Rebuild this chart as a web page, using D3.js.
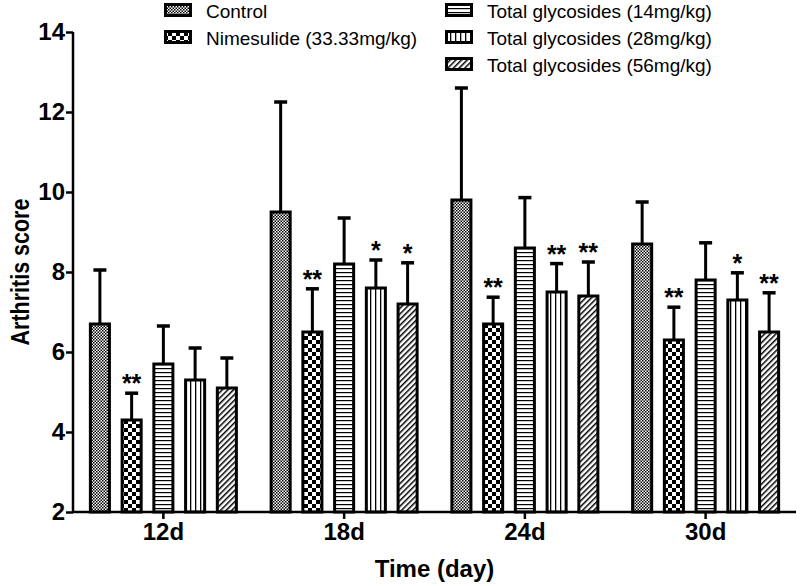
<!DOCTYPE html>
<html>
<head>
<meta charset="utf-8">
<script src="https://cdn.jsdelivr.net/npm/d3@7"></script>
<style>
html,body{margin:0;padding:0;background:#fff;}
svg{display:block;font-family:"Liberation Sans",Arial,sans-serif;}
</style>
</head>
<body>
<svg id="chart" width="800" height="586"></svg>
<script>
// ---- data ----
const days = ["12d", "18d", "24d", "30d"];
const groups = ["Control", "Nimesulide (33.33mg/kg)", "Total glycosides (14mg/kg)", "Total glycosides (28mg/kg)", "Total glycosides (56mg/kg)"];
const meanControl = [6.7, 9.5, 9.8, 8.7];
const meanNimesulide = [4.3, 6.5, 6.7, 6.3];
const meanTG14 = [5.7, 8.2, 8.6, 7.8];
const meanTG28 = [5.3, 7.6, 7.5, 7.3];
const meanTG56 = [5.1, 7.2, 7.4, 6.5];
const sdControl = [1.35, 2.75, 2.8, 1.05];
const sdNimesulide = [0.67, 1.08, 0.67, 0.82];
const sdTG14 = [0.95, 1.15, 1.26, 0.93];
const sdTG28 = [0.8, 0.7, 0.71, 0.68];
const sdTG56 = [0.75, 1.03, 0.85, 0.98];
const sigControl = ["", "", "", ""];
const sigNimesulide = ["**", "**", "**", "**"];
const sigTG14 = ["", "", "", ""];
const sigTG28 = ["", "*", "**", "*"];
const sigTG56 = ["", "*", "**", "**"];
const yTicks = [2, 4, 6, 8, 10, 12, 14];

const means = [meanControl, meanNimesulide, meanTG14, meanTG28, meanTG56];
const sds = [sdControl, sdNimesulide, sdTG14, sdTG28, sdTG56];
const sigs = [sigControl, sigNimesulide, sigTG14, sigTG28, sigTG56];
const patternIds = ["pFine", "pChecker", "pHoriz", "pVert", "pDiag"];

const svg = d3.select("#chart");
const defs = svg.append("defs");

// patterns
function pat(id, w, h) {
  return defs.append("pattern").attr("id", id).attr("patternUnits", "userSpaceOnUse")
    .attr("width", w).attr("height", h);
}
let p = pat("pFine", 3, 3);
p.append("rect").attr("width", 3).attr("height", 3).attr("fill", "#fff");
p.append("rect").attr("width", 1.5).attr("height", 1.5).attr("fill", "#000");
p.append("rect").attr("x", 1.5).attr("y", 1.5).attr("width", 1.5).attr("height", 1.5).attr("fill", "#000");
p = pat("pChecker", 8, 8);
p.append("rect").attr("width", 8).attr("height", 8).attr("fill", "#fff");
p.append("rect").attr("width", 4).attr("height", 4).attr("fill", "#000");
p.append("rect").attr("x", 4).attr("y", 4).attr("width", 4).attr("height", 4).attr("fill", "#000");
p = pat("pHoriz", 4, 4);
p.append("rect").attr("width", 4).attr("height", 4).attr("fill", "#fff");
p.append("rect").attr("y", 0).attr("width", 4).attr("height", 1.2).attr("fill", "#000");
p = pat("pVert", 5, 5);
p.append("rect").attr("width", 5).attr("height", 5).attr("fill", "#fff");
p.append("rect").attr("x", 0).attr("width", 1.3).attr("height", 5).attr("fill", "#000");
p = pat("pDiag", 4, 4).attr("patternTransform", "rotate(45)");
p.append("rect").attr("width", 4).attr("height", 4).attr("fill", "#fff");
p.append("rect").attr("width", 1.5).attr("height", 4).attr("fill", "#000");

// scales
const mLeft = 73, mRight = 796, mTop = 32, mBottom = 512;
const x0 = d3.scaleBand().domain(days).range([mLeft, mRight]).padding(0);
const x1 = d3.scaleBand().domain(groups).range([-73, 73]).paddingInner(0.4).paddingOuter(0);
const y = d3.scaleLinear().domain([2, 14]).range([mBottom, mTop]);

// bars
const data = [];
days.forEach((d, i) => {
  groups.forEach((g, j) => {
    data.push({day: d, group: g, j: j, mean: means[j][i], sd: sds[j][i], sig: sigs[j][i]});
  });
});
const bw = x1.bandwidth();
const cx = d => x0(d.day) + x0.bandwidth() / 2 + x1(d.group) + bw / 2;

const gBars = svg.append("g");
// error bars
gBars.selectAll(".err").data(data).join("line")
  .attr("x1", cx).attr("x2", cx)
  .attr("y1", d => y(d.mean)).attr("y2", d => y(d.mean + d.sd))
  .attr("stroke", "#000").attr("stroke-width", 3);
gBars.selectAll(".cap").data(data).join("line")
  .attr("x1", d => cx(d) - 6.5).attr("x2", d => cx(d) + 6.5)
  .attr("y1", d => y(d.mean + d.sd)).attr("y2", d => y(d.mean + d.sd))
  .attr("stroke", "#000").attr("stroke-width", 3.5);
gBars.selectAll(".bar").data(data).join("rect")
  .attr("x", d => cx(d) - bw / 2).attr("width", bw)
  .attr("y", d => y(d.mean)).attr("height", d => y(2) - y(d.mean))
  .attr("fill", d => `url(#${patternIds[d.j]})`)
  .attr("stroke", "#000").attr("stroke-width", 3);
gBars.selectAll(".sig").data(data.filter(d => d.sig)).join("text")
  .attr("x", cx).attr("y", d => y(d.mean + d.sd) - 1)
  .attr("text-anchor", "middle").attr("font-size", 25).attr("font-weight", "bold")
  .text(d => d.sig);

// axes
const yAxis = svg.append("g").attr("transform", `translate(${mLeft},0)`)
  .call(d3.axisLeft(y).tickValues(yTicks).tickSize(7).tickPadding(1));
const xAxis = svg.append("g").attr("transform", `translate(0,${mBottom})`)
  .call(d3.axisBottom(x0).tickSize(7).tickPadding(3).tickSizeOuter(0));
[yAxis, xAxis].forEach(a => {
  a.select(".domain").attr("stroke", "#000").attr("stroke-width", 2.5);
  a.selectAll(".tick line").attr("stroke", "#000").attr("stroke-width", 2.5);
  a.selectAll(".tick text").attr("fill", "#000").attr("font-size", 24).attr("font-weight", "bold")
    .attr("font-family", '"Liberation Sans",Arial,sans-serif');
});
yAxis.select(".domain").attr("d", `M-0,${mBottom}V${mTop}`);
xAxis.select(".domain").attr("d", `M${mLeft},0H${mRight}`);
xAxis.selectAll(".tick text").attr("y", 28).attr("dy", 0);

// axis titles
svg.append("text").attr("x", (mLeft + mRight) / 2).attr("y", 577)
  .attr("text-anchor", "middle").attr("font-size", 24).attr("font-weight", "bold")
  .text("Time (day)");
svg.append("text").attr("transform", `translate(29,${(mTop + mBottom) / 2}) rotate(-90) scale(1,1.2)`)
  .attr("text-anchor", "middle").attr("font-size", 21.5).attr("font-weight", "bold")
  .text("Arthritis score");

// legend
const legPos = [[164, 10], [164, 37], [445, 10], [445, 37], [445, 64]];
const leg = svg.append("g");
groups.forEach((g, j) => {
  const [lx, ly] = legPos[j];
  leg.append("rect").attr("x", lx + 1.5).attr("y", ly - 5.5).attr("width", 25).attr("height", 11)
    .attr("fill", `url(#${patternIds[j]})`).attr("stroke", "#000").attr("stroke-width", 3);
  leg.append("text").attr("x", lx + 42).attr("y", ly + 1.5).attr("dy", "0.35em")
    .attr("font-size", 19).text(g);
});
</script>
</body>
</html>
